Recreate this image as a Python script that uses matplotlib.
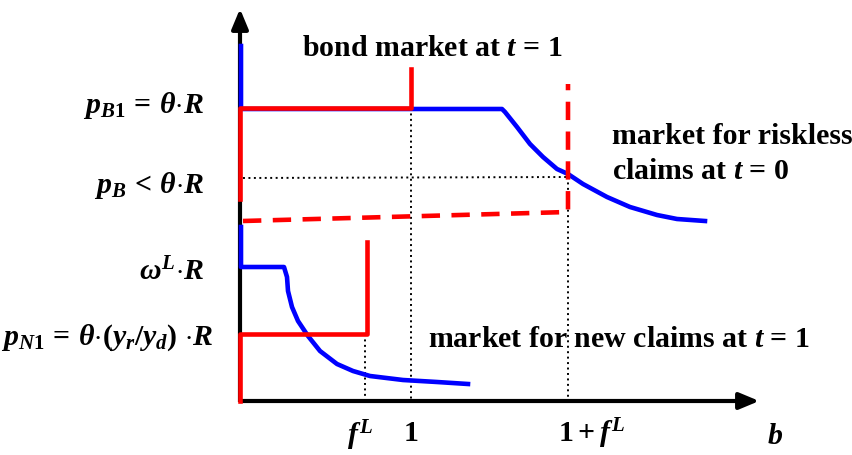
import numpy as np
import matplotlib
matplotlib.use("Agg")
import matplotlib.pyplot as plt

plt.rcParams['font.family'] = ['Liberation Serif', 'DejaVu Serif']
plt.rcParams['font.weight'] = 'bold'
plt.rcParams['mathtext.fontset'] = 'custom'
plt.rcParams['mathtext.rm'] = 'Liberation Serif:bold'
plt.rcParams['mathtext.it'] = 'Liberation Serif:italic:bold'
plt.rcParams['mathtext.bf'] = 'Liberation Serif:bold'

# diagram coordinates (canvas units, y grows downwards)
# upper panel: bond market at t=1 / market for riskless claims at t=0
demand_up_x = [241, 241, 502, 505, 517, 530, 543, 557, 568, 583, 607, 630, 657, 677, 705]
demand_up_y = [47, 110, 110, 113, 128, 145, 158, 170, 175, 185, 198, 208, 216, 220, 222]
supply_up_x = [240, 240, 411, 411]
supply_up_y = [200, 109, 109, 70]
supply0_x = [243, 568, 568]
supply0_y = [222, 213, 85]

# lower panel: market for new claims at t=1
demand_lo_x = [241, 241, 284, 287, 288, 292, 298, 308, 320, 337, 353, 370, 403, 437, 468]
demand_lo_y = [228, 268, 268, 278, 292, 308, 322, 337, 352, 365, 372, 377, 381, 383, 385]
supply_lo_x = [240, 240, 367, 367]
supply_lo_y = [402, 335, 335, 243]

# reference lines
guides = [([243, 568], [179, 178]), ([568, 568], [178, 402]),
          ([411, 411], [109, 402]), ([365, 365], [335, 402])]

fig = plt.figure(figsize=(8.53, 4.56), dpi=100)
ax = fig.add_axes([0, 0, 1, 1])
ax.set_xlim(0, 853)
ax.set_ylim(456, 0)
ax.axis('off')

blue = '#0000ff'
red = '#ff0000'

# axes with arrows
ax.plot([240, 240], [403, 20], color='black', lw=3, solid_capstyle='butt', zorder=2)
ax.plot([239, 745], [402, 402], color='black', lw=3, solid_capstyle='butt', zorder=2)
ax.annotate('', xy=(240, 7), xytext=(240, 30),
            arrowprops=dict(arrowstyle='-|>,head_length=1.2,head_width=0.5', color='black', lw=3))
ax.annotate('', xy=(762, 402), xytext=(735, 402),
            arrowprops=dict(arrowstyle='-|>,head_length=1.2,head_width=0.5', color='black', lw=3))

for gx, gy in guides:
    ax.plot(gx, gy, color='black', lw=1.4, ls=(0, (1, 1.8)), zorder=1)

kw = dict(lw=3.3, solid_joinstyle='round')
ax.plot(demand_up_x, demand_up_y, color=blue, zorder=3, **kw)
ax.plot(supply_up_x, supply_up_y, color=red, zorder=4, **kw)
ax.plot(supply0_x, supply0_y, color=red, lw=3.3, ls=(0, (4, 2.5)), zorder=4)
ax.plot(demand_lo_x, demand_lo_y, color=blue, zorder=3, **kw)
ax.plot(supply_lo_x, supply_lo_y, color=red, zorder=4, **kw)

fs = 21.5
ax.text(204, 106, r'$p_{B\mathrm{1}}\,{=}\,\theta{\cdot}R$', fontsize=fs, ha='right', va='center')
ax.text(204, 186, r'$p_{B}\,{<}\,\theta{\cdot}R$', fontsize=fs, ha='right', va='center')
ax.text(204, 272, r'$\omega^{L}{\cdot}R$', fontsize=fs, ha='right', va='center')
ax.text(214, 338, r'$p_{N\mathrm{1}}\,{=}\,\theta{\cdot}(y_r/y_d)\ {\cdot}R$', fontsize=fs,
        ha='right', va='center')

ax.text(432, 48, r'bond market at $t$ = 1', fontsize=fs, ha='center', va='center')
ax.text(612, 137, 'market for riskless', fontsize=fs, ha='left', va='center')
ax.text(612, 172, r'claims at $t$ = 0', fontsize=fs, ha='left', va='center')
ax.text(428, 340, r'market for new claims at $t$ = 1', fontsize=fs, ha='left', va='center')

ax.text(360, 436, r'$f^{L}$', fontsize=fs, ha='center', va='center')
ax.text(411, 434, r'$\mathrm{1}$', fontsize=fs, ha='center', va='center')
ax.text(592, 434, r'$\mathrm{1}+f^{L}$', fontsize=fs, ha='center', va='center')
ax.text(775, 437, r'$b$', fontsize=fs, ha='center', va='center')

fig.savefig('out.png', dpi=100, facecolor='white')
